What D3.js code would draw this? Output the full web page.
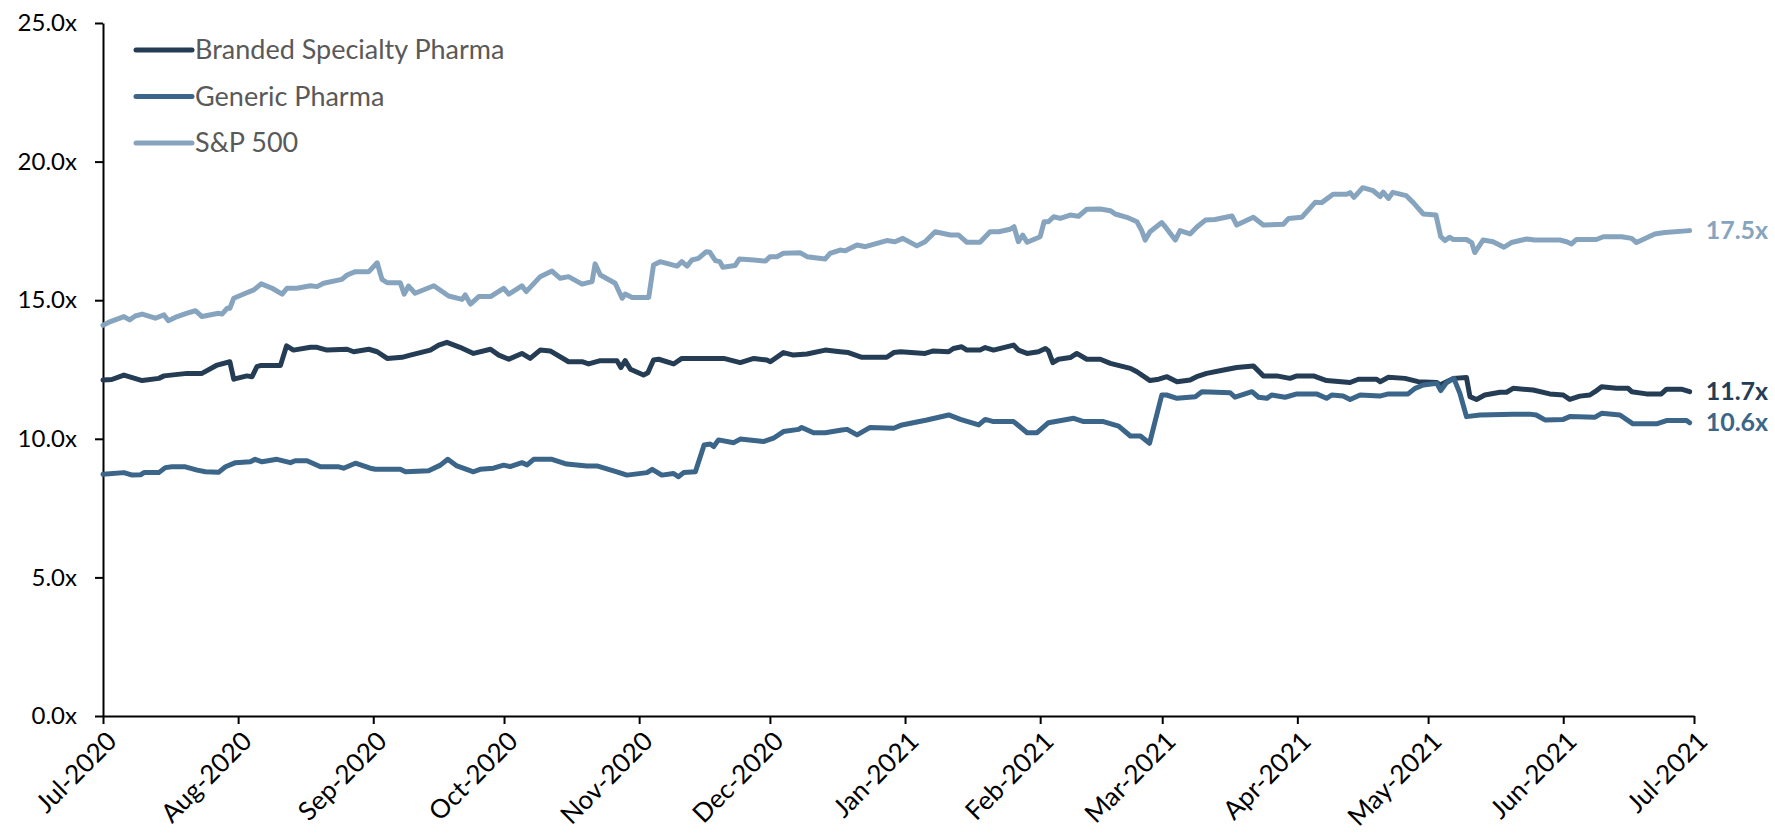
<!DOCTYPE html>
<html>
<head>
<meta charset="utf-8">
<script src="https://cdn.jsdelivr.net/npm/d3@7"></script>
<style>
  body { margin: 0; background: #fff; }
  text { font-family: Lato, "Open Sans", sans-serif; }
</style>
</head>
<body>
<div id="chart"></div>
<script>
// chart values, days counted from 1 Jul 2020
var seriesNames = ["Branded Specialty Pharma", "Generic Pharma", "S&P 500"];
var seriesColors = ["#253c55", "#3b6589", "#87a4be"];
var yTicks = [0, 5, 10, 15, 20, 25];

var bdDays = [0, 2, 4.8, 9, 12.8, 14, 19.3, 22.7, 26.2, 29.1, 30, 33, 34.2, 35.3, 36.1, 40.7, 42.1, 43.7, 47.6, 49.1,
  51.4, 56, 57.5, 61, 62.9, 65.2, 68.6, 70.5, 75.1, 77, 78.9, 81.9, 85, 88.9, 90.8, 93.1, 96.1, 98, 100.3, 102.6,
  106.8, 109.9, 111.4, 114.1, 117.9, 118.8, 119.8, 121, 124, 125, 126.3, 127.5, 130.9, 132.8, 138.5, 142.4, 146.2, 149.3, 152.3, 153.1,
  156.1, 158.4, 161.5, 165.7, 169.1, 171, 174.1, 179.8, 181.4, 183, 188.6, 190.5, 194, 195.1, 197, 198.2, 201.2, 202.4, 204.3, 208.9,
  210, 212, 214.6, 216.2, 216.9, 217.9, 219.2, 221.9, 223.4, 225.7, 228.8, 231.1, 235.7, 237.2, 240.2, 242.2, 244.1, 246.4, 249.4, 250.9,
  253.2, 257.1, 260.1, 263.9, 266.2, 269.3, 272.3, 273.9, 277.7, 280.7, 286.1, 288, 292.2, 293, 294.9, 298.7, 301.7, 306, 306.7, 309.8,
  312.8, 313.6, 315.1, 317, 320.5, 322, 323.5, 328.1, 331.9, 335, 336.5, 338.8, 341.1, 342.3, 343.8, 347.2, 349.9, 350.7, 354.1, 357.5,
  358.7, 362.1, 364];
var bdValues = [12.12, 12.14, 12.30, 12.10, 12.18, 12.27, 12.36, 12.36, 12.66, 12.78, 12.15, 12.27, 12.24, 12.60, 12.64, 12.64, 13.35, 13.20, 13.30, 13.30,
  13.20, 13.23, 13.14, 13.23, 13.14, 12.90, 12.94, 13.02, 13.20, 13.38, 13.48, 13.30, 13.08, 13.23, 13.02, 12.87, 13.08, 12.90, 13.20, 13.17,
  12.78, 12.78, 12.70, 12.82, 12.82, 12.57, 12.82, 12.51, 12.30, 12.38, 12.84, 12.87, 12.70, 12.90, 12.90, 12.90, 12.75, 12.90, 12.84, 12.78,
  13.11, 13.02, 13.06, 13.20, 13.14, 13.11, 12.94, 12.94, 13.11, 13.14, 13.08, 13.17, 13.14, 13.26, 13.32, 13.20, 13.20, 13.29, 13.20, 13.38,
  13.20, 13.08, 13.14, 13.26, 13.17, 12.75, 12.87, 12.93, 13.08, 12.87, 12.87, 12.72, 12.54, 12.42, 12.10, 12.15, 12.24, 12.06, 12.12, 12.24,
  12.36, 12.48, 12.57, 12.63, 12.27, 12.27, 12.18, 12.27, 12.27, 12.10, 12.03, 12.15, 12.15, 12.06, 12.22, 12.18, 12.06, 12.03, 11.94, 12.18,
  12.21, 11.52, 11.42, 11.58, 11.68, 11.68, 11.82, 11.76, 11.62, 11.58, 11.42, 11.54, 11.58, 11.70, 11.88, 11.82, 11.82, 11.70, 11.62, 11.62,
  11.79, 11.79, 11.70];

var gnDays = [0, 4.8, 6.7, 8.6, 9.4, 12.8, 14.3, 15.8, 18.9, 21.6, 23.5, 26.5, 28.1, 30.4, 33.8, 34.9, 36.5, 39.9, 43, 44.1,
  46.8, 49.9, 54.1, 55.2, 57.9, 61.3, 62.5, 68.2, 69.4, 74.7, 77.4, 79.1, 81.2, 85, 86.5, 89.6, 91.9, 93.4, 96.1, 97.3,
  98.8, 103, 106.4, 111, 113.3, 117.9, 120.2, 124.8, 126, 128.2, 130.9, 132, 133.2, 135.9, 137.9, 139.3, 140.1, 141.2, 144.7, 146.2,
  151.5, 153.8, 156.1, 159.6, 160.3, 163, 165.7, 169.5, 170.7, 173, 176, 181.4, 183.3, 189, 194, 196.7, 200.9, 202.4, 204.3, 208.9,
  212, 214.3, 216.9, 222.7, 225, 229.5, 233, 235.7, 238, 240.1, 242.9, 244, 246.4, 250.6, 252.1, 258.6, 259.7, 263.6, 265.1, 267,
  268.1, 271.2, 273.9, 278.4, 280.7, 281.9, 284.5, 286.1, 288.4, 292.9, 294.9, 299.4, 301, 302.9, 306, 306.9, 308.2, 309.9, 311.3, 312.8,
  315.9, 323.5, 327.3, 328.8, 330.8, 335, 336.5, 342.3, 343.8, 348, 351, 356.4, 358.7, 363.3, 364];
var gnValues = [8.72, 8.78, 8.69, 8.70, 8.78, 8.78, 8.96, 8.99, 8.99, 8.87, 8.81, 8.79, 8.99, 9.14, 9.17, 9.26, 9.17, 9.26, 9.14, 9.21,
  9.21, 8.99, 8.99, 8.94, 9.12, 8.94, 8.90, 8.90, 8.81, 8.85, 9.05, 9.26, 9.02, 8.81, 8.90, 8.94, 9.05, 9.00, 9.14, 9.06,
  9.26, 9.26, 9.09, 9.02, 9.02, 8.81, 8.69, 8.78, 8.90, 8.69, 8.75, 8.63, 8.78, 8.81, 9.78, 9.81, 9.72, 9.96, 9.86, 9.99,
  9.90, 10.02, 10.26, 10.34, 10.41, 10.22, 10.22, 10.32, 10.34, 10.14, 10.41, 10.38, 10.50, 10.68, 10.86, 10.70, 10.50, 10.70, 10.62, 10.62,
  10.22, 10.22, 10.58, 10.74, 10.62, 10.62, 10.46, 10.10, 10.10, 9.84, 11.58, 11.58, 11.46, 11.52, 11.70, 11.66, 11.50, 11.70, 11.50, 11.46,
  11.58, 11.50, 11.62, 11.62, 11.46, 11.58, 11.54, 11.42, 11.58, 11.54, 11.62, 11.62, 11.82, 11.94, 12.00, 11.74, 12.02, 12.18, 11.64, 10.80,
  10.86, 10.89, 10.89, 10.86, 10.68, 10.70, 10.80, 10.78, 10.92, 10.86, 10.54, 10.54, 10.66, 10.66, 10.58];

var spDays = [0, 1.7, 4.8, 6.1, 7.4, 9, 12, 14, 15, 17, 19.3, 21.2, 22.7, 26.5, 27.3, 28.5, 29.1, 30, 32.7, 34.6,
  36.3, 38.8, 41.1, 42.2, 44.5, 47.6, 49.1, 50.6, 54.8, 56, 57.9, 61, 62.9, 64, 65.2, 68.2, 69.1, 70.1, 71.6, 75.9,
  79.3, 82.4, 83.1, 84.3, 86.2, 88.9, 91.9, 93.1, 96.1, 97.1, 100.3, 103, 104.9, 106.8, 109.9, 112.2, 112.9, 114.1, 117.5, 119.1,
  119.8, 121.4, 125.2, 126.3, 127.8, 131.7, 132.8, 134, 135.1, 136.6, 138.4, 139.2, 140.5, 141.5, 142.2, 145, 146, 149.3, 152, 153,
  154.6, 156.1, 160, 161.5, 165.7, 166.8, 169.1, 170.3, 173, 174.9, 179.8, 181.7, 183.5, 186.7, 188.6, 190.9, 194.4, 196.3, 198.2, 201.2,
  203.5, 205.5, 208.1, 209, 210, 211, 212, 215, 215.9, 216.9, 218.1, 219.6, 221.9, 223.8, 225.7, 228.8, 231.1, 232.2, 234.9, 237.2,
  238.3, 239.1, 240.2, 242.9, 244, 246, 247.1, 249.4, 250.9, 252.9, 255.1, 259, 260.1, 263.9, 266.2, 270.8, 272, 275, 278.1, 279.6,
  282.2, 285.3, 286.1, 287, 289, 291.4, 293, 293.7, 294.9, 295.9, 299, 300.6, 302.9, 305.8, 306.9, 307.9, 308.9, 309.8, 312.8, 314,
  314.7, 316.6, 318.9, 321.4, 323.1, 326.6, 328.5, 334.2, 335.8, 336.9, 338, 342.6, 344.2, 348.4, 350.7, 351.8, 356, 358.3, 364];
var spValues = [14.10, 14.23, 14.41, 14.29, 14.43, 14.50, 14.35, 14.47, 14.26, 14.41, 14.53, 14.62, 14.41, 14.53, 14.50, 14.71, 14.71, 15.07, 15.25, 15.37,
  15.59, 15.43, 15.22, 15.43, 15.43, 15.52, 15.49, 15.61, 15.75, 15.91, 16.03, 16.03, 16.35, 15.75, 15.63, 15.63, 15.22, 15.51, 15.25, 15.52,
  15.15, 15.03, 15.19, 14.86, 15.13, 15.13, 15.43, 15.22, 15.52, 15.31, 15.85, 16.05, 15.79, 15.85, 15.58, 15.67, 16.31, 15.91, 15.61, 15.07,
  15.22, 15.10, 15.10, 16.27, 16.39, 16.23, 16.39, 16.23, 16.45, 16.51, 16.75, 16.73, 16.43, 16.39, 16.19, 16.25, 16.49, 16.45, 16.41, 16.57,
  16.57, 16.69, 16.71, 16.57, 16.49, 16.69, 16.81, 16.78, 16.99, 16.93, 17.15, 17.11, 17.23, 16.96, 17.11, 17.47, 17.35, 17.35, 17.09, 17.09,
  17.47, 17.47, 17.56, 17.65, 17.11, 17.35, 17.09, 17.29, 17.83, 17.83, 18.01, 17.95, 18.07, 18.03, 18.28, 18.29, 18.23, 18.11, 17.99, 17.83,
  17.51, 17.17, 17.47, 17.80, 17.59, 17.17, 17.51, 17.39, 17.63, 17.89, 17.91, 18.04, 17.71, 17.99, 17.71, 17.74, 17.95, 17.99, 18.53, 18.52,
  18.82, 18.82, 18.88, 18.71, 19.06, 18.95, 18.74, 18.90, 18.67, 18.89, 18.77, 18.52, 18.11, 18.07, 17.29, 17.15, 17.27, 17.19, 17.19, 17.08,
  16.72, 17.17, 17.11, 16.91, 17.08, 17.21, 17.17, 17.17, 17.11, 17.03, 17.19, 17.19, 17.29, 17.29, 17.23, 17.08, 17.39, 17.44, 17.51];

// SVG area
var svgWidth = 1775;
var svgHeight = 836;
var margin = { top: 23, right: 81, bottom: 120, left: 103 };
var chartWidth = svgWidth - margin.left - margin.right;
var chartHeight = svgHeight - margin.top - margin.bottom;

var svg = d3.select("#chart")
  .append("svg")
  .attr("width", svgWidth)
  .attr("height", svgHeight);

var chartGroup = svg.append("g")
  .attr("transform", `translate(${margin.left}, ${margin.top})`);

var start = Date.UTC(2020, 6, 1);
function toDate(d) { return new Date(start + d * 864e5); }

var series = [
  { name: seriesNames[0], color: seriesColors[0], days: bdDays, values: bdValues },
  { name: seriesNames[1], color: seriesColors[1], days: gnDays, values: gnValues },
  { name: seriesNames[2], color: seriesColors[2], days: spDays, values: spValues }
];

// scales
var xScale = d3.scaleUtc()
  .domain([new Date(start), new Date(Date.UTC(2021, 6, 1))])
  .range([0, chartWidth]);

var yScale = d3.scaleLinear()
  .domain([0, 25])
  .range([chartHeight, 0]);

// axes
var xAxis = d3.axisBottom(xScale)
  .ticks(d3.utcMonth.every(1))
  .tickFormat(d3.utcFormat("%b-%Y"))
  .tickSize(8)
  .tickSizeOuter(0);

var yAxis = d3.axisLeft(yScale)
  .tickValues(yTicks)
  .tickFormat(d => d.toFixed(1) + "x")
  .tickSize(8)
  .tickSizeOuter(0)
  .tickPadding(18);

var xg = chartGroup.append("g")
  .attr("transform", `translate(0, ${chartHeight})`)
  .call(xAxis);

xg.selectAll("text")
  .attr("text-anchor", "end")
  .attr("dx", 0)
  .attr("dy", 0)
  .attr("transform", "translate(7, 19) rotate(-45)")
  .attr("font-size", 26)
  .attr("fill", "#000");

var yg = chartGroup.append("g")
  .call(yAxis);

yg.selectAll("text")
  .attr("font-size", 24)
  .attr("fill", "#000");

chartGroup.selectAll(".domain, .tick line")
  .attr("stroke", "#000")
  .attr("stroke-width", 2);

// lines
var line = d3.line()
  .x(d => xScale(d.date))
  .y(d => yScale(d.value));

series.forEach(function(s) {
  var pts = s.days.map((d, i) => ({ date: toDate(d), value: s.values[i] }));
  chartGroup.append("path")
    .datum(pts)
    .attr("fill", "none")
    .attr("stroke", s.color)
    .attr("stroke-width", 5)
    .attr("stroke-linejoin", "round")
    .attr("stroke-linecap", "round")
    .attr("d", line);

  var last = pts[pts.length - 1];
  chartGroup.append("text")
    .attr("x", xScale(last.date) + 16)
    .attr("y", yScale(last.value))
    .attr("dy", "0.35em")
    .attr("font-size", 25)
    .attr("font-weight", "bold")
    .attr("fill", s.color)
    .text(last.value.toFixed(1) + "x");
});

// legend
var legend = svg.append("g")
  .attr("transform", "translate(136, 50)");

series.forEach(function(s, i) {
  var row = legend.append("g")
    .attr("transform", `translate(0, ${i * 46.5})`);
  row.append("line")
    .attr("x1", 0)
    .attr("x2", 56)
    .attr("stroke", s.color)
    .attr("stroke-width", 5)
    .attr("stroke-linecap", "round");
  row.append("text")
    .attr("x", 59)
    .attr("dy", "0.35em")
    .attr("font-size", 27)
    .attr("fill", "#595959")
    .text(s.name);
});
</script>
</body>
</html>
